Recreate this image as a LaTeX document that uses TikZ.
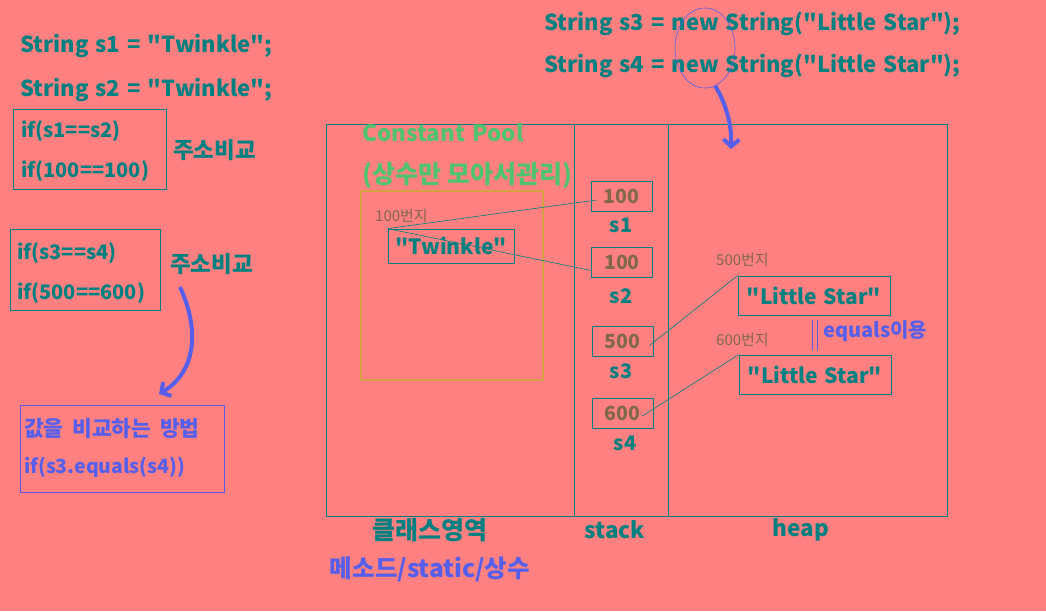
\documentclass[tikz,border=0pt]{standalone}
\usepackage{fontspec}
\setmainfont{Noto Sans CJK KR}[Ligatures=TeXOff]
\newfontfamily\codefont{Noto Sans CJK KR}[Ligatures=TeXOff, WordSpace=1.4]
\usetikzlibrary{arrows.meta}
\usetikzlibrary{shapes.geometric}
\usetikzlibrary{positioning}
\definecolor{bgred}{RGB}{255,128,128}
\definecolor{tealc}{RGB}{0,128,128}
\definecolor{poolgreen}{RGB}{80,195,110}
\definecolor{addrbrown}{RGB}{128,104,72}
\definecolor{poolorange}{RGB}{215,160,70}
\definecolor{markblue}{RGB}{85,95,235}
\begin{document}
\begin{tikzpicture}[x=1pt,y=-1pt,
  code/.style={anchor=west, inner sep=0pt, text=tealc, font=\codefont\bfseries\fontsize{22}{26}\selectfont},
  cond/.style={anchor=west, inner sep=0pt, text=tealc, font=\bfseries\fontsize{20}{24}\selectfont},
  condbox/.style={draw=tealc, line width=.8pt, inner sep=0pt},
  note/.style={inner sep=0pt, text=tealc, font=\bfseries\fontsize{22.5}{26}\selectfont},
  valbox/.style={draw=tealc, line width=.8pt, minimum width=61pt, minimum height=30pt, inner sep=0pt,
    text=addrbrown, font=\bfseries\fontsize{19.5}{22}\selectfont},
  var/.style={inner sep=0pt, text=tealc, font=\bfseries\fontsize{20}{24}\selectfont},
  strbox/.style={draw=tealc, line width=.8pt, inner sep=0pt, text=tealc, font=\bfseries\fontsize{21}{25}\selectfont},
  addr/.style={anchor=west, inner sep=0pt, text=addrbrown, font=\fontsize{15}{18}\selectfont},
  link/.style={draw=tealc, line width=.6pt},
  fatarrow/.style={draw=markblue, line width=4pt, -{Straight Barb[length=7pt,width=16pt]}}
]
\def\l{.8pt}
\def\gap{\hspace{.4em}}
\fill[bgred] (0,0) rectangle (1046,611);
% declarations
\node[code] (dec1) at (20,46) {String s1 = "Twinkle";};
\node[code] (dec2) at (20,90) {String s2 = "Twinkle";};
\node[code] (dec3) at (544,24) {String s3 = new String("Little Star");};
\node[code] (dec4) at (544,66) {String s4 = new String("Little Star");};
\node[draw=markblue, line width=.6pt, ellipse, minimum width=60pt, minimum height=80pt, name=newmark] at (705,48) {};
% address comparisons
\node[condbox, minimum width=153pt, minimum height=80pt, name=box1] at (89.5,149) {};
\node[cond] (c1) at (21,131) {if(s1==s2)};
\node[cond] (c2) at (21,171) {if(100==100)};
\node[note, anchor=west] (cmp1) at (173,150) {주소비교};
\node[condbox, minimum width=150pt, minimum height=81pt, name=box2] at (85,269.5) {};
\node[cond] (c3) at (17,253) {if(s3==s4)};
\node[cond] (c4) at (17,293) {if(500==600)};
\node[note, anchor=west] (cmp2) at (170,264) {주소비교};
% value comparison
\node[draw=markblue, line width=.8pt, minimum width=204pt, minimum height=87pt, inner sep=0pt, name=box3] at (122,448.5) {};
\node[cond, text=markblue, font=\bfseries\fontsize{21.5}{25}\selectfont] (c5) at (24,428) {값을\gap{}비교하는\gap{}방법};
\node[cond, text=markblue, font=\bfseries\fontsize{19.5}{24}\selectfont] (c6) at (24,467) {if(s3.equals(s4))};
\coordinate (a1s) at (180,287);
\coordinate (a1e) at (159,394);
\draw[fatarrow] (a1s) .. controls (200,330) and (196,372) .. (a1e);
% memory areas
\draw[tealc, line width=\l] (326,124) rectangle (947,516);
\draw[tealc, line width=\l] (574,124) -- (574,516);
\draw[tealc, line width=\l] (668,124) -- (668,516);
\node[anchor=west, inner sep=0pt, text=poolgreen, font=\bfseries\fontsize{22.5}{26}\selectfont] (pool) at (362,133) {Constant Pool};
\node[anchor=west, inner sep=0pt, text=poolgreen, font=\bfseries\fontsize{25}{29}\selectfont] (poolnote) at (362,175) {(상수만\hspace{.25em}모아서관리)};
\draw[poolorange, line width=1.1pt] (361,191) rectangle (543,380);
\node[addr] (a100) at (375,216) {100번지};
\node[strbox, minimum width=126pt, minimum height=34pt, name=tw] at (451,246) {"Twinkle"};
% stack
\node[valbox, name=v1] at (621.5,196) {100};
\node[var] (s1) at (621,225) {s1};
\node[valbox, name=v2] at (622,262.5) {100};
\node[var] (s2) at (621,296) {s2};
\node[valbox, name=v3] at (622.5,341.5) {500};
\node[var] (s3) at (621,371) {s3};
\node[valbox, name=v4] at (622.5,413) {600};
\node[var] (s4) at (625,443) {s4};
% heap
\node[addr] (a500) at (716,260) {500번지};
\node[strbox, minimum width=152pt, minimum height=39pt, name=ls1] at (814,295.5) {"Little Star"};
\node[addr] (a600) at (716,340) {600번지};
\node[strbox, minimum width=152pt, minimum height=39pt, name=ls2] at (815,374.5) {"Little Star"};
\draw[markblue, line width=1pt] (812,320) -- (812,350);
\draw[markblue, line width=1pt] (817,320) -- (817,350);
\node[anchor=west, inner sep=0pt, text=markblue, font=\bfseries\fontsize{20}{24}\selectfont] (eq) at (823,331) {equals이용};
% references
\draw[link] ([xshift=6pt,yshift=-4pt]v1.west) -- (tw.north west);
\draw[link] (tw.north west) -- ([yshift=-8pt]v2.west);
\draw[link] ([xshift=-4pt,yshift=-4pt]v3.east) -- (ls1.north west);
\draw[link] ([xshift=-11pt,yshift=-3pt]v4.east) -- (ls2.north west);
\coordinate (a2e) at (731,149);
\draw[fatarrow] (newmark.-75) .. controls (724,100) and (732,122) .. (a2e);
% area names
\node[note, font=\bfseries\fontsize{25}{28}\selectfont] (cls) at (430,530) {클래스영역};
\node[note] (stk) at (615,530) {stack};
\node[note] (hp) at (801,530) {heap};
\node[note, text=markblue, font=\bfseries\fontsize{24.5}{28}\selectfont] (meta) at (430,569) {메소드/static/상수};
\end{tikzpicture}
\end{document}
